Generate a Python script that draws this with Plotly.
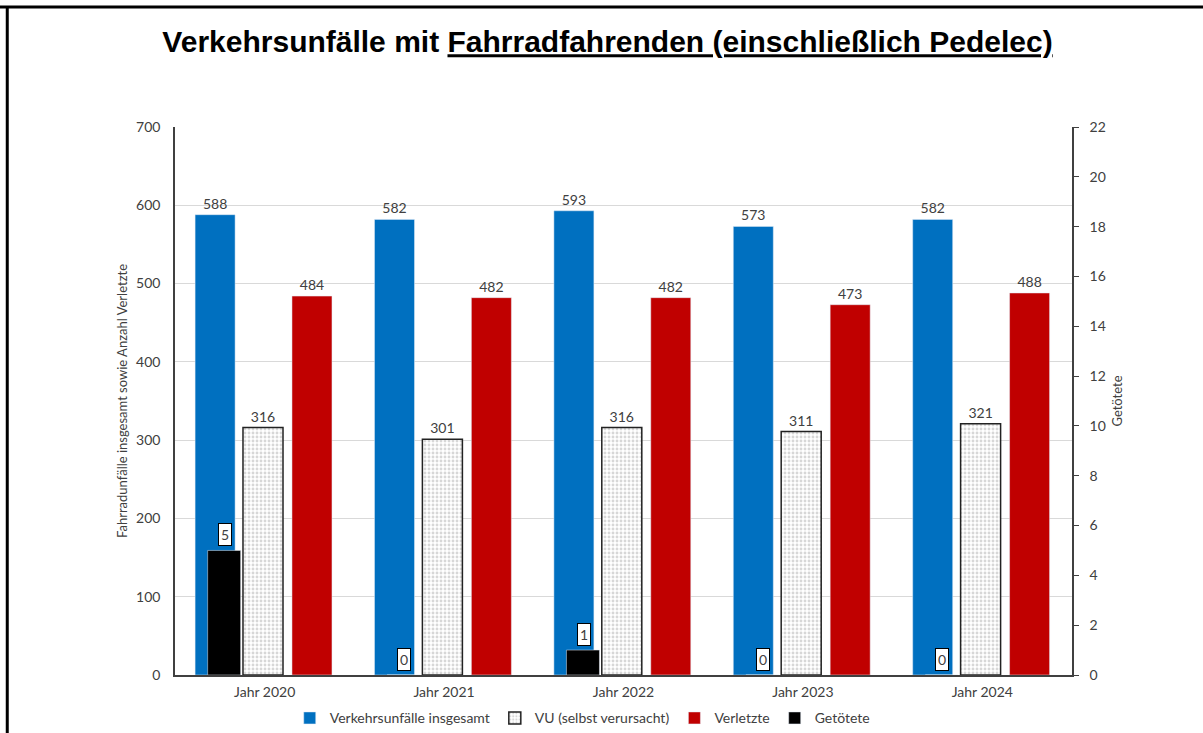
import plotly.graph_objects as go

categories = ["Jahr 2020", "Jahr 2021", "Jahr 2022", "Jahr 2023", "Jahr 2024"]
unfaelle = [588, 582, 593, 573, 582]
vu_selbst = [316, 301, 316, 311, 321]
verletzte = [484, 482, 482, 473, 488]
getoetete = [5, 0, 1, 0, 0]

BLUE = "#0070C0"
RED = "#C00000"
FONT = "Lato"
TXT = "#404040"

fig = go.Figure()
fig.add_trace(go.Bar(
    x=categories, y=unfaelle, name="Verkehrsunfälle insgesamt",
    marker=dict(color=BLUE), width=0.223, offset=-0.388,
    text=unfaelle, textposition="outside", cliponaxis=False,
    textfont=dict(size=14, color=TXT, family=FONT)))
fig.add_trace(go.Bar(
    x=categories, y=vu_selbst, name="VU (selbst verursacht)",
    marker=dict(color="white", line=dict(color="#222222", width=1.5),
                pattern=dict(shape=".", fgcolor="#b0b0b0", bgcolor="white",
                             size=4, solidity=0.4)),
    width=0.223, offset=-0.121,
    text=vu_selbst, textposition="outside", cliponaxis=False,
    textfont=dict(size=14, color=TXT, family=FONT)))
fig.add_trace(go.Bar(
    x=categories, y=verletzte, name="Verletzte",
    marker=dict(color=RED), width=0.223, offset=0.152,
    text=verletzte, textposition="outside", cliponaxis=False,
    textfont=dict(size=14, color=TXT, family=FONT)))
fig.add_trace(go.Bar(
    x=categories, y=getoetete, name="Getötete", yaxis="y2",
    marker=dict(color="black"), width=0.184, offset=-0.318))

for c, v in zip(categories, getoetete):
    fig.add_annotation(
        x=c, y=v, yref="y2", text=str(v), showarrow=False,
        xshift=-40, yshift=4, yanchor="bottom",
        bgcolor="white", bordercolor="black", borderwidth=1, borderpad=2,
        font=dict(size=14, color=TXT, family=FONT))

fig.update_layout(
    width=1203, height=733,
    margin=dict(l=175, r=131, t=127, b=58, autoexpand=False),
    paper_bgcolor="white", plot_bgcolor="white",
    barmode="overlay",
    title=dict(text="<b>Verkehrsunfälle mit <u>Fahrradfahrenden (einschließlich Pedelec)</u></b>",
               x=0.505, xanchor="center", y=0.943, yanchor="middle",
               font=dict(family="Liberation Sans", size=30, color="black")),
    font=dict(family=FONT, size=13, color=TXT),
    showlegend=True,
    legend=dict(orientation="h", x=0.454, xanchor="center",
                yref="container", y=0.02, yanchor="middle",
                bgcolor="rgba(0,0,0,0)",
                font=dict(size=14, color=TXT, family=FONT), traceorder="normal",
                itemwidth=30),
    xaxis=dict(showline=True, linecolor="#404040", linewidth=1.5, automargin=False,
               tickfont=dict(size=14, color=TXT), ticks="", ticklabelstandoff=3),
    yaxis=dict(range=[0, 700], dtick=100, showgrid=True, gridcolor="#D9D9D9",
               showline=True, linecolor="#404040", linewidth=1.5, zeroline=False,
               tickfont=dict(size=14, color=TXT), ticks="", ticklabelstandoff=10,
               title=dict(text="Fahrradunfälle insgesamt sowie Anzahl Verletzte",
                          font=dict(size=13, color=TXT), standoff=6)),
    yaxis2=dict(range=[0, 22], dtick=2, overlaying="y", side="right", showgrid=False,
                showline=True, linecolor="#404040", linewidth=1.5, zeroline=False,
                ticks="outside", ticklen=5, tickcolor="#404040", ticklabelstandoff=8,
                tickfont=dict(size=14, color=TXT),
                title=dict(text="Getötete", font=dict(size=13, color=TXT), standoff=8)),
    shapes=[
        dict(type="line", xref="paper", yref="paper", x0=-0.2, x1=1.2, y0=1.219, y1=1.219,
             line=dict(color="black", width=3)),
        dict(type="line", xref="paper", yref="paper", x0=-0.187, x1=-0.187, y0=1.22, y1=-0.2,
             line=dict(color="black", width=3)),
    ],
)

fig.write_html("out.html")
